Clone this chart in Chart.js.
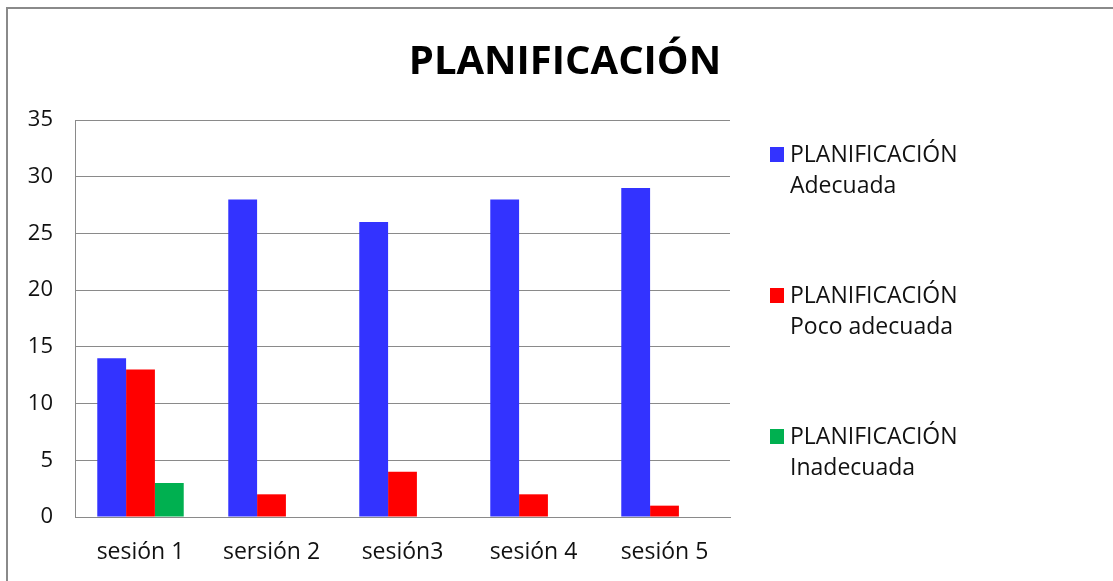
<!DOCTYPE html>
<html><head><meta charset="utf-8">
<script src="https://cdn.jsdelivr.net/npm/chart.js@4"></script>
<style>html,body{margin:0;padding:0;background:#fff;overflow:hidden}#wrap{width:1113px;height:581px}</style>
</head><body><div id="wrap"><canvas id="c" width="1113" height="581"></canvas></div>
<script>
const titleText = 'PLANIFICACIÓN';
const categories = ['sesión 1', 'sersión 2', 'sesión3', 'sesión 4', 'sesión 5'];
const seriesNames = [['PLANIFICACIÓN', 'Adecuada'], ['PLANIFICACIÓN', 'Poco adecuada'], ['PLANIFICACIÓN', 'Inadecuada']];
const adecuada = [14, 28, 26, 28, 29];
const pocoAdecuada = [13, 2, 4, 2, 1];
const inadecuada = [3, 0, 0, 0, 0];
const yTicks = [0, 5, 10, 15, 20, 25, 30, 35];
const colors = ['#3333ff', '#ff0000', '#00b050'];
const FONT = '"Open Sans", sans-serif';

const decor = {
  id: 'decor',
  afterDraw(chart) {
    const ctx = chart.ctx;
    ctx.save();
    // outer frame
    ctx.strokeStyle = '#8a8a8a'; ctx.lineWidth = 2;
    ctx.beginPath(); ctx.moveTo(7, 1200); ctx.lineTo(7, 8); ctx.lineTo(1300, 8); ctx.stroke();
    // title
    ctx.fillStyle = '#000'; ctx.font = 'bold 40px "Open Sans", sans-serif';
    ctx.textAlign = 'center'; ctx.textBaseline = 'alphabetic';
    ctx.fillText(titleText, 565, 74);
    // legend
    ctx.textAlign = 'left'; ctx.textBaseline = 'middle';
    ctx.font = '23px ' + FONT;
    chart.data.datasets.forEach((ds, i) => {
      const y0 = 155 + i * 141;
      ctx.fillStyle = ds.backgroundColor;
      ctx.fillRect(770, y0 - 8, 14, 15);
      ctx.fillStyle = '#111';
      ds.label.forEach((line, j) => ctx.fillText(line, 790, y0 + j * 31));
    });
    ctx.restore();
  }
};

new Chart(document.getElementById('c'), {
  type: 'bar',
  data: {
    labels: categories,
    datasets: [
      { label: seriesNames[0], data: adecuada, backgroundColor: colors[0] },
      { label: seriesNames[1], data: pocoAdecuada, backgroundColor: colors[1] },
      { label: seriesNames[2], data: inadecuada, backgroundColor: colors[2] }
    ]
  },
  options: {
    responsive: false, animation: false, devicePixelRatio: 1,
    layout: { padding: { top: 120, right: 383, bottom: 0, left: 0 } },
    datasets: { bar: { categoryPercentage: 0.66, barPercentage: 1.0 } },
    plugins: { legend: { display: false }, title: { display: false }, tooltip: { enabled: false } },
    scales: {
      x: {
        grid: { display: false, drawTicks: false },
        border: { color: '#8a8a8a', width: 1 },
        ticks: { color: '#111', font: { family: FONT, size: 23 }, padding: 22 },
        afterFit(s) { s.height = 64; }
      },
      y: {
        min: 0, max: 35,
        afterBuildTicks(s) { s.ticks = yTicks.map(v => ({ value: v })); },
        grid: { color: '#8a8a8a', drawTicks: false },
        border: { color: '#8a8a8a', width: 1 },
        ticks: { color: '#111', font: { family: FONT, size: 22 }, padding: 22 },
        afterFit(s) { s.width = 75; }
      }
    }
  },
  plugins: [decor]
});
</script></body></html>
